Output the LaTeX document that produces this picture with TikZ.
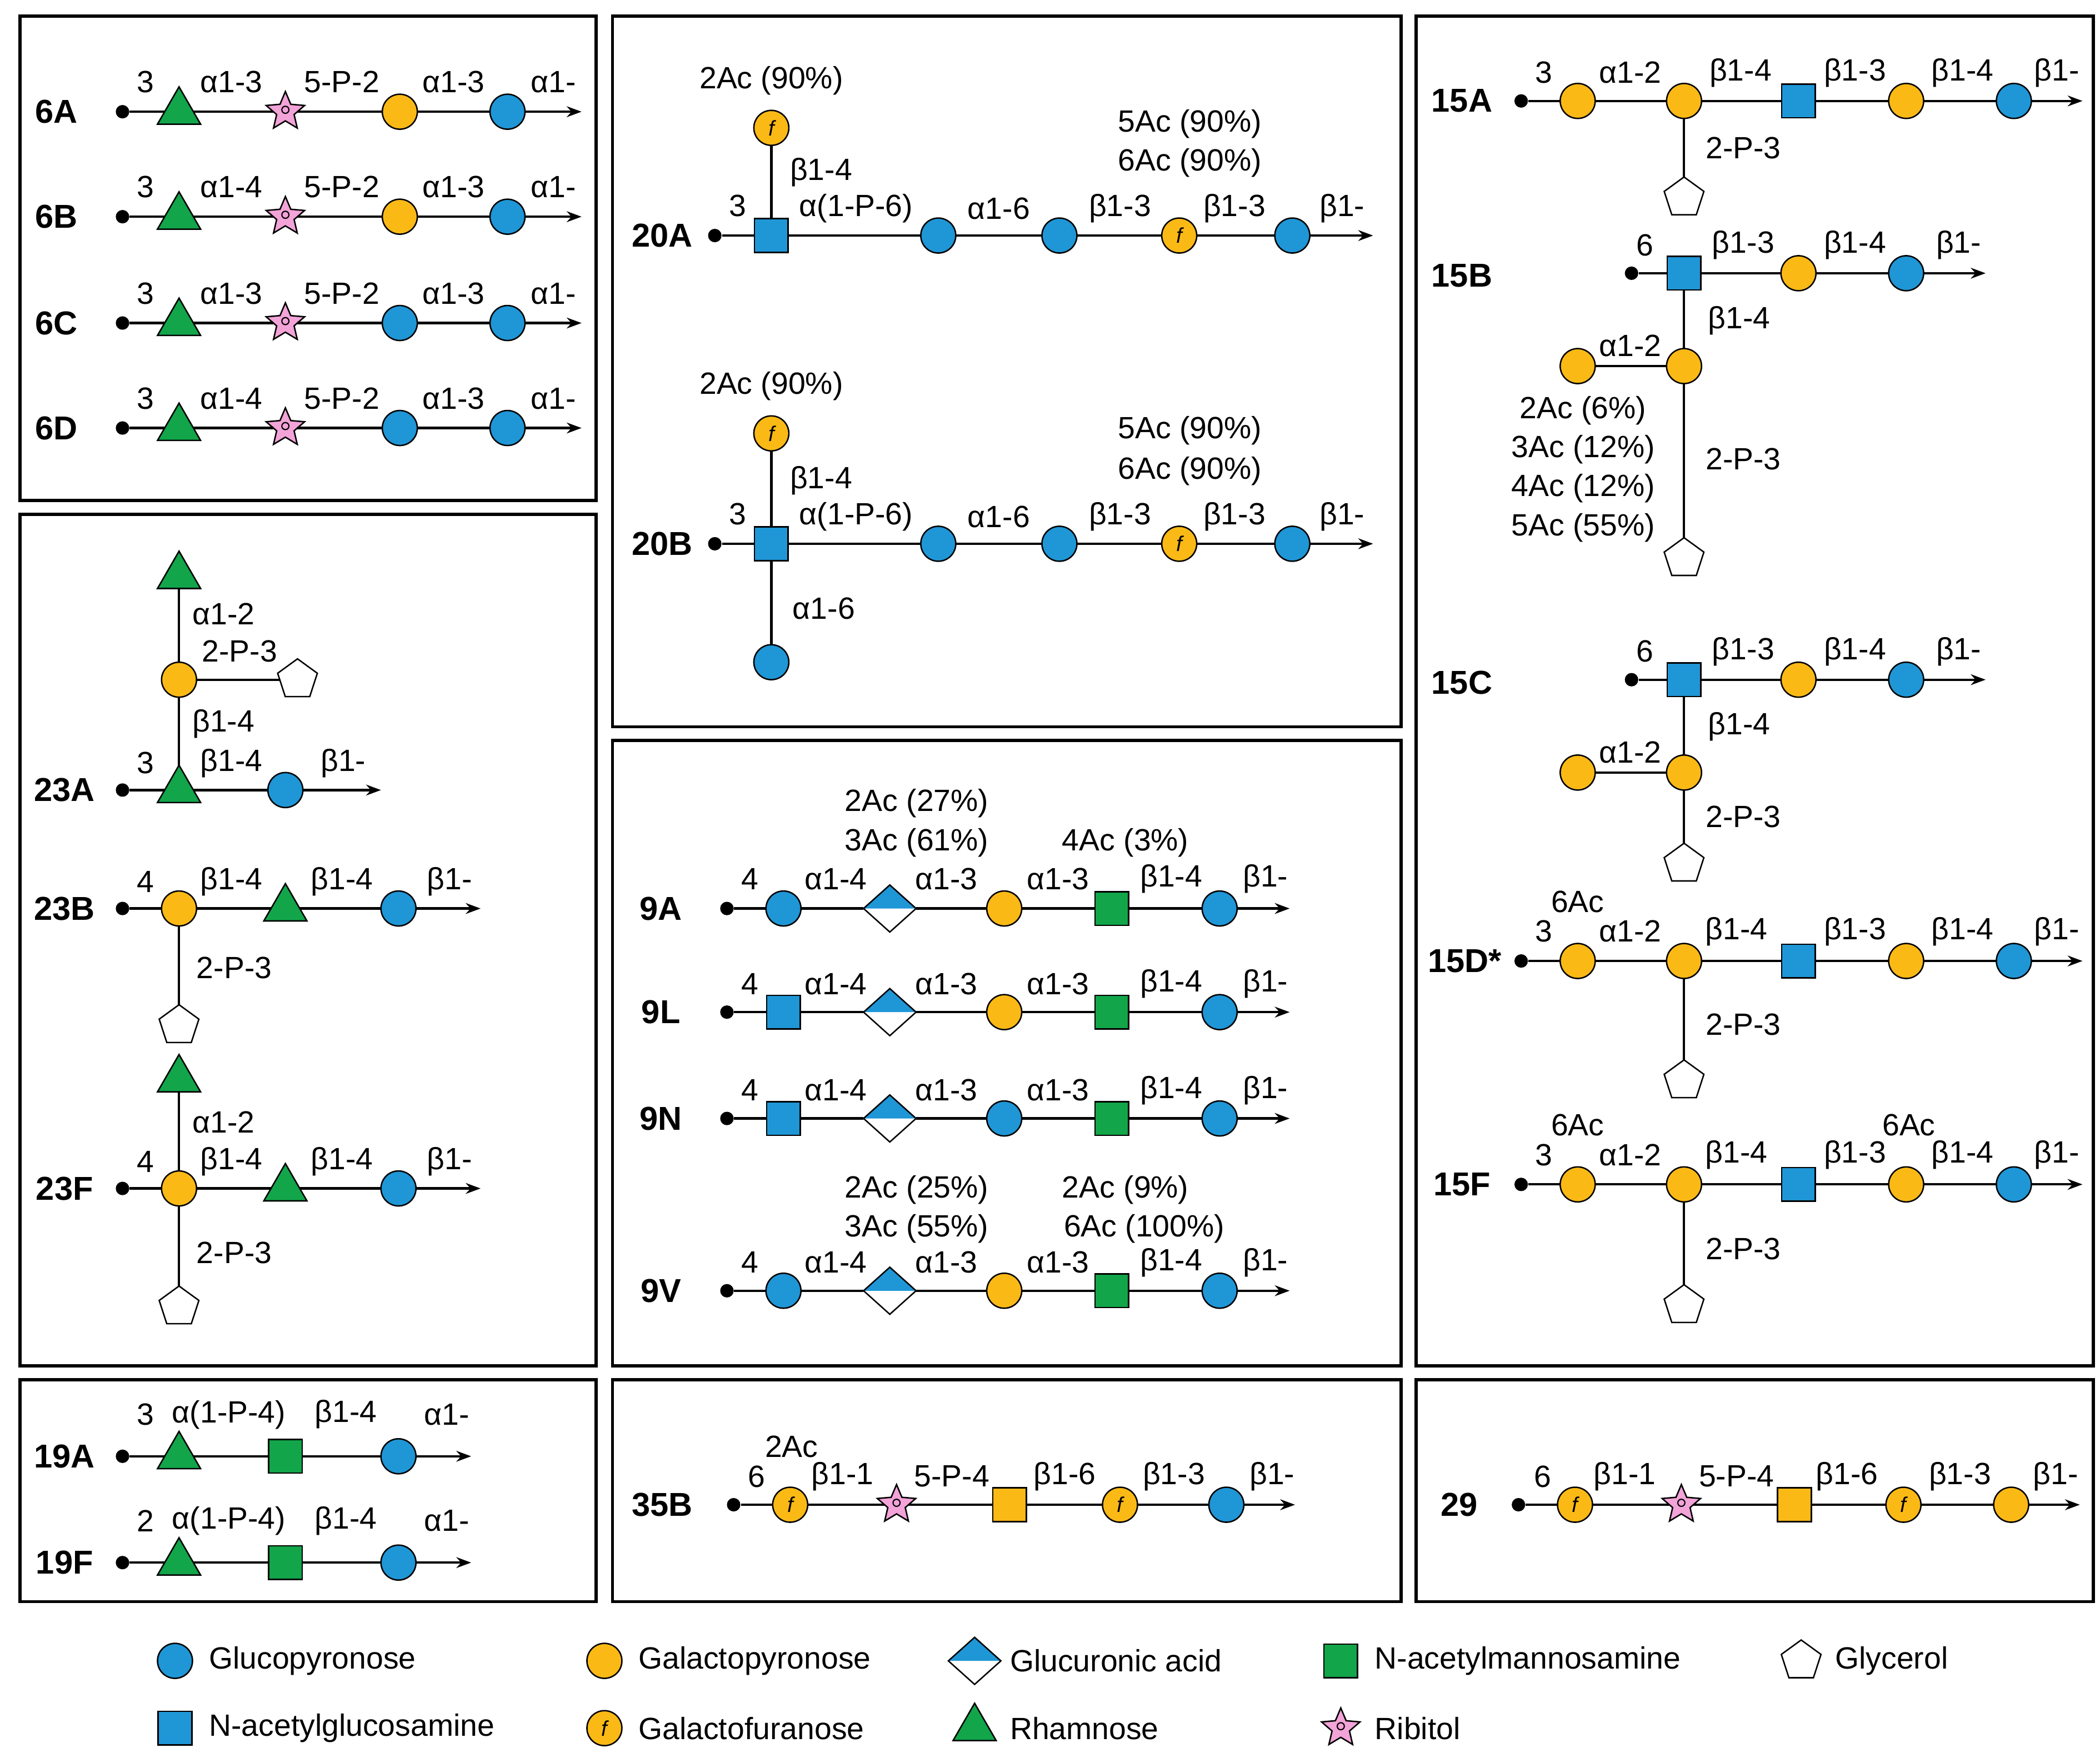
\documentclass[tikz,border=0pt]{standalone}
\usepackage{fontspec}
\setmainfont{Liberation Sans}
\usetikzlibrary{shapes.geometric,arrows.meta}
\definecolor{cblue}{HTML}{1F96D6}
\definecolor{cyel}{HTML}{FBB916}
\definecolor{cgreen}{HTML}{12A54A}
\definecolor{cpink}{HTML}{F2A3D8}
\newcounter{lb}
\tikzset{
 base/.style={draw=black,line width=0.6pt,inner sep=0pt,outer sep=0pt},
 glc/.style={base,circle,fill=cblue,minimum size=0.52cm},
 gal/.style={base,circle,fill=cyel,minimum size=0.52cm},
 galf/.style={gal,font=\fontsize{9}{9}\selectfont\itshape},
 glcnac/.style={base,rectangle,fill=cblue,minimum size=0.5cm},
 mannac/.style={base,rectangle,fill=cgreen,minimum size=0.5cm},
 galnac/.style={base,rectangle,fill=cyel,minimum size=0.5cm},
 rha/.style={base,regular polygon,regular polygon sides=3,fill=cgreen,minimum size=0.74cm},
 gro/.style={base,regular polygon,regular polygon sides=5,fill=white,minimum size=0.62cm},
 rib/.style={base,star,star points=5,star point ratio=2.2,fill=cpink,minimum size=0.6cm,
   path picture={\draw[line width=0.5pt] (path picture bounding box.center) circle (1.5pt);}},
 glca/.style={base,diamond,fill=white,minimum width=0.78cm,minimum height=0.7cm,aspect=1.1,
   path picture={\fill[cblue] (path picture bounding box.west) -- (path picture bounding box.north) -- (path picture bounding box.east) -- cycle;}},
 dotn/.style={circle,fill=black,inner sep=0pt,minimum size=0.2cm},
 lab/.style={font=\fontsize{13}{15}\selectfont,inner sep=0pt},
 pl/.style={font=\fontsize{14}{16}\selectfont\bfseries,inner sep=0pt},
 ln/.style={line width=1pt},
 arr/.style={line width=1pt,-{Stealth[length=2.2mm,width=1.6mm]}},
 panel/.style={line width=1.4pt},
}
\newcommand\Glc[3]{\node[glc] (#1) at (#2,#3) {};}
\newcommand\Gal[3]{\node[gal] (#1) at (#2,#3) {};}
\newcommand\Galf[3]{\node[galf] (#1) at (#2,#3) {f};}
\newcommand\GlcNAc[3]{\node[glcnac] (#1) at (#2,#3) {};}
\newcommand\ManNAc[3]{\node[mannac] (#1) at (#2,#3) {};}
\newcommand\GalNAc[3]{\node[galnac] (#1) at (#2,#3) {};}
\newcommand\Rha[3]{\node[rha] (#1) at (#2,#3) {};}
\newcommand\Gro[3]{\node[gro] (#1) at (#2,#3) {};}
\newcommand\Rib[3]{\node[rib] (#1) at (#2,#3) {};}
\newcommand\GlcA[3]{\node[glca] (#1) at (#2,#3) {};}
\newcommand\Dt[3]{\node[dotn] (#1) at (#2,#3) {};}
\newcommand\En[3]{\coordinate (#1) at (#2,#3);}
\newcommand\Lb[3]{\stepcounter{lb}\node[lab] (lb\thelb) at (#1,#2) {#3};}
\newcommand\Pl[3]{\stepcounter{lb}\node[pl] (pl\thelb) at (#1,#2) {#3};}
\newcommand\Ll[3]{\stepcounter{lb}\node[lab,anchor=west] (lg\thelb) at (#1,#2) {#3};}
% panel 1 row
\newcommand\sixrow[5]{%
 \Pl{42}{#2}{#1}\Dt{r#1d}{91}{#2}\Rha{r#1a}{133}{#2}\Rib{r#1b}{212}{#2}#5{r#1c}{297}{#2}\Glc{r#1e}{377}{#2}\En{r#1f}{432}{#2}
 \draw[ln] (r#1d)--(r#1a)--(r#1b)--(r#1c)--(r#1e); \draw[arr] (r#1e)--(r#1f);
 \Lb{108}{#3}{3}\Lb{172}{#3}{#4}\Lb{254}{#3}{5-P-2}\Lb{337}{#3}{α1-3}\Lb{411}{#3}{α1-}}
\begin{document}
\begin{tikzpicture}[x=0.02cm,y=-0.02cm]
\path[use as bounding box,fill=white] (0,0) rectangle (1560,1306);
% panels
\draw[panel] (15,12) rectangle (443,372);
\draw[panel] (15,382) rectangle (443,1015);
\draw[panel] (15,1025) rectangle (443,1190);
\draw[panel] (455,12) rectangle (1041,540);
\draw[panel] (455,550) rectangle (1041,1015);
\draw[panel] (455,1025) rectangle (1041,1190);
\draw[panel] (1052,12) rectangle (1555,1015);
\draw[panel] (1052,1025) rectangle (1555,1190);
% panel 1
\sixrow{6A}{83}{61}{α1-3}{\Gal}
\sixrow{6B}{161}{139}{α1-4}{\Gal}
\sixrow{6C}{240}{218}{α1-3}{\Glc}
\sixrow{6D}{318}{296}{α1-4}{\Glc}
% 23A
\Pl{48}{587}{23A}\Dt{a1}{91}{587}\Rha{a2}{133}{587}\Glc{a3}{212}{587}\En{a4}{283}{587}
\Gal{a5}{133}{505}\Rha{a6}{133}{428}\Gro{a7}{221}{505}
\draw[ln] (a1)--(a2)--(a3); \draw[arr] (a3)--(a4);
\draw[ln] (a2)--(a5)--(a6); \draw[ln] (a5)--(a7);
\Lb{108}{567}{3}\Lb{172}{567}{β1-4}\Lb{255}{567}{β1-}
\Lb{166}{456}{α1-2}\Lb{178}{484}{2-P-3}\Lb{166}{538}{β1-4}
% 23B
\Pl{48}{675}{23B}\Dt{b1}{91}{675}\Gal{b2}{133}{675}\Rha{b3}{212}{675}\Glc{b4}{296}{675}\En{b5}{357}{675}\Gro{b6}{133}{762}
\draw[ln] (b1)--(b2)--(b3)--(b4); \draw[arr] (b4)--(b5); \draw[ln] (b2)--(b6);
\Lb{108}{655}{4}\Lb{172}{655}{β1-4}\Lb{254}{655}{β1-4}\Lb{334}{655}{β1-}\Lb{174}{719}{2-P-3}
% 23F
\Pl{48}{883}{23F}\Dt{c1}{91}{883}\Gal{c2}{133}{883}\Rha{c3}{212}{883}\Glc{c4}{296}{883}\En{c5}{357}{883}\Gro{c6}{133}{971}\Rha{c7}{133}{802}
\draw[ln] (c1)--(c2)--(c3)--(c4); \draw[arr] (c4)--(c5); \draw[ln] (c2)--(c6); \draw[ln] (c2)--(c7);
\Lb{108}{863}{4}\Lb{172}{863}{β1-4}\Lb{254}{863}{β1-4}\Lb{334}{863}{β1-}\Lb{174}{931}{2-P-3}\Lb{166}{834}{α1-2}
% 19A/19F
\Pl{48}{1082}{19A}\Dt{d1}{91}{1082}\Rha{d2}{133}{1082}\ManNAc{d3}{212}{1082}\Glc{d4}{296}{1082}\En{d5}{350}{1082}
\draw[ln] (d1)--(d2)--(d3)--(d4); \draw[arr] (d4)--(d5);
\Lb{108}{1051}{3}\Lb{170}{1051}{α(1-P-4)}\Lb{257}{1051}{β1-4}\Lb{332}{1051}{α1-}
\Pl{48}{1161}{19F}\Dt{e1}{91}{1161}\Rha{e2}{133}{1161}\ManNAc{e3}{212}{1161}\Glc{e4}{296}{1161}\En{e5}{350}{1161}
\draw[ln] (e1)--(e2)--(e3)--(e4); \draw[arr] (e4)--(e5);
\Lb{108}{1130}{2}\Lb{170}{1130}{α(1-P-4)}\Lb{257}{1130}{β1-4}\Lb{332}{1130}{α1-}
% 20A
\Pl{492}{175}{20A}\Dt{f1}{531}{175}\GlcNAc{f2}{573}{175}\Glc{f3}{697}{175}\Glc{f4}{787}{175}\Galf{f5}{876}{175}\Glc{f6}{960}{175}\En{f7}{1020}{175}\Galf{f8}{573}{95}
\draw[ln] (f1)--(f2)--(f3)--(f4)--(f5)--(f6); \draw[arr] (f6)--(f7); \draw[ln] (f2)--(f8);
\Lb{573}{60}{2Ac (90\%)}\Lb{610}{128}{β1-4}\Lb{548}{153}{3}\Lb{636}{155}{α(1-P-6)}\Lb{742}{155}{α1-6}\Lb{832}{155}{β1-3}\Lb{917}{155}{β1-3}\Lb{997}{155}{β1-}
\Lb{884}{92}{5Ac (90\%)}\Lb{884}{121}{6Ac (90\%)}
% 20B
\Pl{492}{404}{20B}\Dt{g1}{531}{404}\GlcNAc{g2}{573}{404}\Glc{g3}{697}{404}\Glc{g4}{787}{404}\Galf{g5}{876}{404}\Glc{g6}{960}{404}\En{g7}{1020}{404}\Galf{g8}{573}{322}\Glc{g9}{573}{492}
\draw[ln] (g1)--(g2)--(g3)--(g4)--(g5)--(g6); \draw[arr] (g6)--(g7); \draw[ln] (g2)--(g8); \draw[ln] (g2)--(g9);
\Lb{573}{287}{2Ac (90\%)}\Lb{610}{357}{β1-4}\Lb{548}{382}{3}\Lb{636}{384}{α(1-P-6)}\Lb{742}{384}{α1-6}\Lb{832}{384}{β1-3}\Lb{917}{384}{β1-3}\Lb{997}{384}{β1-}
\Lb{884}{320}{5Ac (90\%)}\Lb{884}{350}{6Ac (90\%)}\Lb{612}{452}{α1-6}
% 9A
\Pl{491}{675}{9A}\Dt{h1}{540}{675}\Glc{h2}{582}{675}\GlcA{h3}{661}{675}\Gal{h4}{746}{675}\ManNAc{h5}{826}{675}\Glc{h6}{906}{675}\En{h7}{958}{675}
\draw[ln] (h1)--(h2)--(h3)--(h4)--(h5)--(h6); \draw[arr] (h6)--(h7);
\Lb{557}{653}{4}\Lb{621}{653}{α1-4}\Lb{703}{653}{α1-3}\Lb{786}{653}{α1-3}\Lb{870}{653}{β1-4}\Lb{940}{653}{β1-}
\Lb{681}{597}{2Ac (27\%)}\Lb{681}{626}{3Ac (61\%)}\Lb{836}{626}{4Ac (3\%)}
% 9L
\Pl{491}{752}{9L}\Dt{i1}{540}{752}\GlcNAc{i2}{582}{752}\GlcA{i3}{661}{752}\Gal{i4}{746}{752}\ManNAc{i5}{826}{752}\Glc{i6}{906}{752}\En{i7}{958}{752}
\draw[ln] (i1)--(i2)--(i3)--(i4)--(i5)--(i6); \draw[arr] (i6)--(i7);
\Lb{557}{731}{4}\Lb{621}{731}{α1-4}\Lb{703}{731}{α1-3}\Lb{786}{731}{α1-3}\Lb{870}{731}{β1-4}\Lb{940}{731}{β1-}
% 9N
\Pl{491}{831}{9N}\Dt{j1}{540}{831}\GlcNAc{j2}{582}{831}\GlcA{j3}{661}{831}\Glc{j4}{746}{831}\ManNAc{j5}{826}{831}\Glc{j6}{906}{831}\En{j7}{958}{831}
\draw[ln] (j1)--(j2)--(j3)--(j4)--(j5)--(j6); \draw[arr] (j6)--(j7);
\Lb{557}{810}{4}\Lb{621}{810}{α1-4}\Lb{703}{810}{α1-3}\Lb{786}{810}{α1-3}\Lb{870}{810}{β1-4}\Lb{940}{810}{β1-}
% 9V
\Pl{491}{959}{9V}\Dt{k1}{540}{959}\Glc{k2}{582}{959}\GlcA{k3}{661}{959}\Gal{k4}{746}{959}\ManNAc{k5}{826}{959}\Glc{k6}{906}{959}\En{k7}{958}{959}
\draw[ln] (k1)--(k2)--(k3)--(k4)--(k5)--(k6); \draw[arr] (k6)--(k7);
\Lb{557}{938}{4}\Lb{621}{938}{α1-4}\Lb{703}{938}{α1-3}\Lb{786}{938}{α1-3}\Lb{870}{938}{β1-4}\Lb{940}{938}{β1-}
\Lb{681}{884}{2Ac (25\%)}\Lb{681}{913}{3Ac (55\%)}\Lb{836}{884}{2Ac (9\%)}\Lb{850}{913}{6Ac (100\%)}
% 35B
\Pl{492}{1118}{35B}\Dt{m1}{545}{1118}\Galf{m2}{587}{1118}\Rib{m3}{666}{1118}\GalNAc{m4}{750}{1118}\Galf{m5}{832}{1118}\Glc{m6}{911}{1118}\En{m7}{962}{1118}
\draw[ln] (m1)--(m2)--(m3)--(m4)--(m5)--(m6); \draw[arr] (m6)--(m7);
\Lb{562}{1097}{6}\Lb{626}{1097}{β1-1}\Lb{707}{1097}{5-P-4}\Lb{791}{1097}{β1-6}\Lb{872}{1097}{β1-3}\Lb{945}{1097}{β1-}\Lb{588}{1075}{2Ac}
% 29
\Pl{1084}{1118}{29}\Dt{n1}{1128}{1118}\Galf{n2}{1170}{1118}\Rib{n3}{1249}{1118}\GalNAc{n4}{1333}{1118}\Galf{n5}{1414}{1118}\Gal{n6}{1494}{1118}\En{n7}{1545}{1118}
\draw[ln] (n1)--(n2)--(n3)--(n4)--(n5)--(n6); \draw[arr] (n6)--(n7);
\Lb{1146}{1097}{6}\Lb{1207}{1097}{β1-1}\Lb{1290}{1097}{5-P-4}\Lb{1372}{1097}{β1-6}\Lb{1456}{1097}{β1-3}\Lb{1527}{1097}{β1-}
% 15A
\Pl{1086}{75}{15A}\Dt{p1}{1130}{75}\Gal{p2}{1172}{75}\Gal{p3}{1251}{75}\GlcNAc{p4}{1336}{75}\Gal{p5}{1416}{75}\Glc{p6}{1496}{75}\En{p7}{1547}{75}\Gro{p8}{1251}{147}
\draw[ln] (p1)--(p2)--(p3)--(p4)--(p5)--(p6); \draw[arr] (p6)--(p7); \draw[ln] (p3)--(p8);
\Lb{1147}{54}{3}\Lb{1211}{54}{α1-2}\Lb{1293}{54}{β1-4}\Lb{1378}{54}{β1-3}\Lb{1458}{54}{β1-4}\Lb{1528}{54}{β1-}\Lb{1295}{110}{2-P-3}
% 15B
\Pl{1086}{205}{15B}\Dt{q1}{1212}{203}\GlcNAc{q2}{1251}{203}\Gal{q3}{1336}{203}\Glc{q4}{1416}{203}\En{q5}{1475}{203}\Gal{q6}{1251}{272}\Gal{q7}{1172}{272}\Gro{q8}{1251}{415}
\draw[ln] (q1)--(q2)--(q3)--(q4); \draw[arr] (q4)--(q5); \draw[ln] (q2)--(q6)--(q8); \draw[ln] (q7)--(q6);
\Lb{1222}{182}{6}\Lb{1295}{182}{β1-3}\Lb{1378}{182}{β1-4}\Lb{1455}{182}{β1-}\Lb{1292}{238}{β1-4}\Lb{1211}{257}{α1-2}\Lb{1295}{341}{2-P-3}
\Lb{1176}{305}{2Ac (6\%)}\Lb{1176}{334}{3Ac (12\%)}\Lb{1176}{363}{4Ac (12\%)}\Lb{1176}{392}{5Ac (55\%)}
% 15C
\Pl{1086}{507}{15C}\Dt{s1}{1212}{505}\GlcNAc{s2}{1251}{505}\Gal{s3}{1336}{505}\Glc{s4}{1416}{505}\En{s5}{1475}{505}\Gal{s6}{1251}{574}\Gal{s7}{1172}{574}\Gro{s8}{1251}{642}
\draw[ln] (s1)--(s2)--(s3)--(s4); \draw[arr] (s4)--(s5); \draw[ln] (s2)--(s6)--(s8); \draw[ln] (s7)--(s6);
\Lb{1222}{484}{6}\Lb{1295}{484}{β1-3}\Lb{1378}{484}{β1-4}\Lb{1455}{484}{β1-}\Lb{1292}{540}{β1-4}\Lb{1211}{559}{α1-2}\Lb{1295}{607}{2-P-3}
% 15D*
\Pl{1088}{714}{15D*}\Dt{t1}{1130}{714}\Gal{t2}{1172}{714}\Gal{t3}{1251}{714}\GlcNAc{t4}{1336}{714}\Gal{t5}{1416}{714}\Glc{t6}{1496}{714}\En{t7}{1547}{714}\Gro{t8}{1251}{803}
\draw[ln] (t1)--(t2)--(t3)--(t4)--(t5)--(t6); \draw[arr] (t6)--(t7); \draw[ln] (t3)--(t8);
\Lb{1147}{692}{3}\Lb{1211}{692}{α1-2}\Lb{1290}{692}{β1-4}\Lb{1378}{692}{β1-3}\Lb{1458}{692}{β1-4}\Lb{1528}{692}{β1-}\Lb{1172}{670}{6Ac}\Lb{1295}{761}{2-P-3}
% 15F
\Pl{1086}{880}{15F}\Dt{u1}{1130}{880}\Gal{u2}{1172}{880}\Gal{u3}{1251}{880}\GlcNAc{u4}{1336}{880}\Gal{u5}{1416}{880}\Glc{u6}{1496}{880}\En{u7}{1547}{880}\Gro{u8}{1251}{970}
\draw[ln] (u1)--(u2)--(u3)--(u4)--(u5)--(u6); \draw[arr] (u6)--(u7); \draw[ln] (u3)--(u8);
\Lb{1147}{858}{3}\Lb{1211}{858}{α1-2}\Lb{1290}{858}{β1-4}\Lb{1378}{858}{β1-3}\Lb{1458}{858}{β1-4}\Lb{1528}{858}{β1-}\Lb{1172}{836}{6Ac}\Lb{1418}{836}{6Ac}\Lb{1295}{928}{2-P-3}
% legend
\Glc{L1}{130}{1234}\Ll{155}{1234}{Glucopyronose}
\Gal{L2}{449}{1234}\Ll{474}{1234}{Galactopyronose}
\GlcA{L3}{724}{1234}\Ll{750}{1234}{Glucuronic acid}
\ManNAc{L4}{996}{1234}\Ll{1021}{1234}{N-acetylmannosamine}
\Gro{L5}{1338}{1234}\Ll{1363}{1234}{Glycerol}
\GlcNAc{L6}{130}{1284}\Ll{155}{1284}{N-acetylglucosamine}
\Galf{L7}{449}{1284}\Ll{474}{1284}{Galactofuranose}
\Rha{L8}{724}{1284}\Ll{750}{1284}{Rhamnose}
\Rib{L9}{996}{1284}\Ll{1021}{1284}{Ribitol}
\end{tikzpicture}
\end{document}
